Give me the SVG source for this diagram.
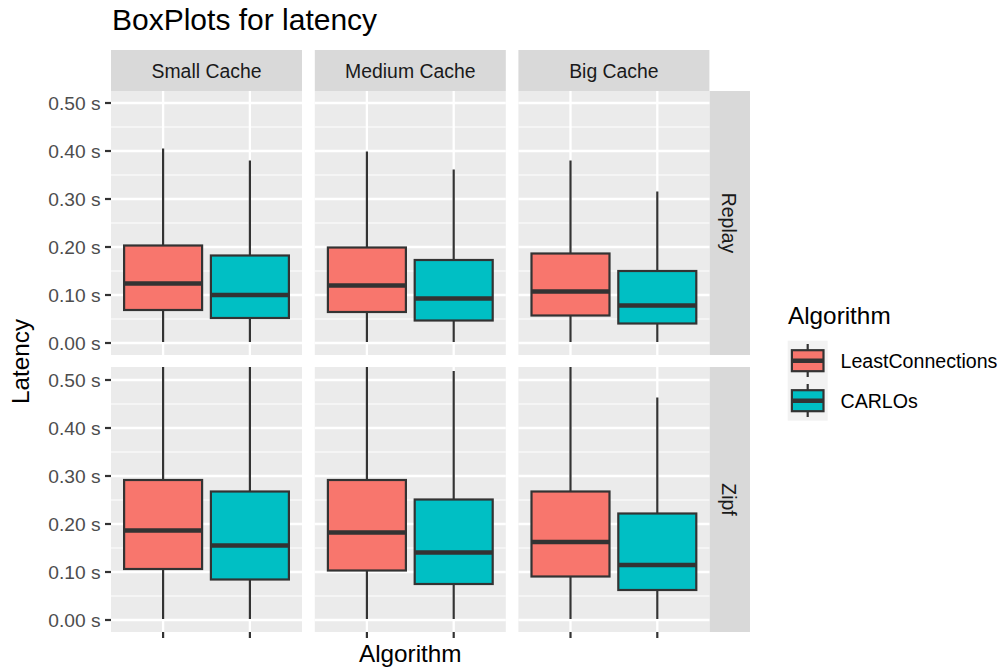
<svg xmlns="http://www.w3.org/2000/svg" width="1003" height="671" viewBox="0 0 1003 671">
<style>
text{font-family:"Liberation Sans",Arial,Helvetica,sans-serif}
.bg{fill:#EBEBEB}
.strip{fill:#D9D9D9}
.gmaj{stroke:#FFFFFF;stroke-width:2.3}
.gmin{stroke:#FFFFFF;stroke-width:1.2}
.box{stroke:#333333;stroke-width:2.2}
.red{fill:#F8766D}
.cy{fill:#00BFC4}
.wh{stroke:#333333;stroke-width:2.2}
.med{stroke:#333333;stroke-width:4.6}
.tick{stroke:#333333;stroke-width:2.2}
.ax{font-size:19.2px;fill:#4D4D4D;text-anchor:end}
.st{font-size:19.4px;fill:#1A1A1A;text-anchor:middle}
.ttl{font-size:24.3px;fill:#000000}
.lg{font-size:19.6px;fill:#000000}
</style>
<defs>
<g id="hgridT">
<line class="gmin" x1="0" x2="191" y1="127" y2="127"/><line class="gmin" x1="0" x2="191" y1="175" y2="175"/><line class="gmin" x1="0" x2="191" y1="223" y2="223"/><line class="gmin" x1="0" x2="191" y1="271" y2="271"/><line class="gmin" x1="0" x2="191" y1="319" y2="319"/>
<line class="gmaj" x1="0" x2="191" y1="103" y2="103"/><line class="gmaj" x1="0" x2="191" y1="151" y2="151"/><line class="gmaj" x1="0" x2="191" y1="199" y2="199"/><line class="gmaj" x1="0" x2="191" y1="247" y2="247"/><line class="gmaj" x1="0" x2="191" y1="295" y2="295"/><line class="gmaj" x1="0" x2="191" y1="343" y2="343"/>
<line class="gmaj" x1="52.1" x2="52.1" y1="91" y2="355"/><line class="gmaj" x1="138.9" x2="138.9" y1="91" y2="355"/>
</g>
<g id="hgridB">
<line class="gmin" x1="0" x2="191" y1="404" y2="404"/><line class="gmin" x1="0" x2="191" y1="452" y2="452"/><line class="gmin" x1="0" x2="191" y1="500" y2="500"/><line class="gmin" x1="0" x2="191" y1="548" y2="548"/><line class="gmin" x1="0" x2="191" y1="596" y2="596"/>
<line class="gmaj" x1="0" x2="191" y1="380" y2="380"/><line class="gmaj" x1="0" x2="191" y1="428" y2="428"/><line class="gmaj" x1="0" x2="191" y1="476" y2="476"/><line class="gmaj" x1="0" x2="191" y1="524" y2="524"/><line class="gmaj" x1="0" x2="191" y1="572" y2="572"/><line class="gmaj" x1="0" x2="191" y1="620" y2="620"/>
<line class="gmaj" x1="52.1" x2="52.1" y1="367" y2="632"/><line class="gmaj" x1="138.9" x2="138.9" y1="367" y2="632"/>
</g>
</defs>
<rect width="1003" height="671" fill="#FFFFFF"/>
<text x="112" y="30" style="font-size:30px;fill:#000000">BoxPlots for latency</text>

<g id="strips">
<rect class="strip" x="111" y="50" width="191" height="41"/>
<rect class="strip" x="314.8" y="50" width="191" height="41"/>
<rect class="strip" x="518.4" y="50" width="191" height="41"/>
<text class="st" x="206.5" y="77.5">Small Cache</text>
<text class="st" x="410.3" y="77.5">Medium Cache</text>
<text class="st" x="613.9" y="77.5">Big Cache</text>
<rect class="strip" x="709.4" y="91" width="40.6" height="264"/>
<rect class="strip" x="709.4" y="367" width="40.6" height="265"/>
<text class="st" transform="translate(721.5,223) rotate(90)">Replay</text>
<text class="st" transform="translate(721.5,499.5) rotate(90)">Zipf</text>
</g>

<g id="panel-replay-small">
<rect class="bg" x="111" y="91" width="191" height="264"/>
<use href="#hgridT" x="111"/>
<line class="wh" x1="163.1" x2="163.1" y1="148.5" y2="342"/>
<rect class="box red" x="124.1" y="245.5" width="78" height="64.5"/>
<line class="med" x1="124.1" x2="202.1" y1="283.5" y2="283.5"/>
<line class="wh" x1="249.9" x2="249.9" y1="160.5" y2="342"/>
<rect class="box cy" x="210.9" y="255.5" width="78" height="62.5"/>
<line class="med" x1="210.9" x2="288.9" y1="295" y2="295"/>
</g>
<g id="panel-replay-medium">
<rect class="bg" x="314.8" y="91" width="191" height="264"/>
<use href="#hgridT" x="314.8"/>
<line class="wh" x1="366.9" x2="366.9" y1="151.5" y2="342"/>
<rect class="box red" x="327.9" y="247.5" width="78" height="64.5"/>
<line class="med" x1="327.9" x2="405.9" y1="285.5" y2="285.5"/>
<line class="wh" x1="453.7" x2="453.7" y1="169.5" y2="342"/>
<rect class="box cy" x="414.7" y="260" width="78" height="60.5"/>
<line class="med" x1="414.7" x2="492.7" y1="298.5" y2="298.5"/>
</g>
<g id="panel-replay-big">
<rect class="bg" x="518.4" y="91" width="191" height="264"/>
<use href="#hgridT" x="518.4"/>
<line class="wh" x1="570.5" x2="570.5" y1="160.5" y2="342"/>
<rect class="box red" x="531.5" y="253.5" width="78" height="62"/>
<line class="med" x1="531.5" x2="609.5" y1="291.5" y2="291.5"/>
<line class="wh" x1="657.3" x2="657.3" y1="191.5" y2="342"/>
<rect class="box cy" x="618.3" y="271" width="78" height="52.5"/>
<line class="med" x1="618.3" x2="696.3" y1="305.5" y2="305.5"/>
</g>

<g id="panel-zipf-small">
<rect class="bg" x="111" y="367" width="191" height="265"/>
<use href="#hgridB" x="111"/>
<line class="wh" x1="163.1" x2="163.1" y1="367" y2="619"/>
<rect class="box red" x="124.1" y="480" width="78" height="89"/>
<line class="med" x1="124.1" x2="202.1" y1="530.5" y2="530.5"/>
<line class="wh" x1="249.9" x2="249.9" y1="367" y2="619"/>
<rect class="box cy" x="210.9" y="491.5" width="78" height="88"/>
<line class="med" x1="210.9" x2="288.9" y1="545.5" y2="545.5"/>
</g>
<g id="panel-zipf-medium">
<rect class="bg" x="314.8" y="367" width="191" height="265"/>
<use href="#hgridB" x="314.8"/>
<line class="wh" x1="366.9" x2="366.9" y1="367" y2="619"/>
<rect class="box red" x="327.9" y="480" width="78" height="90.5"/>
<line class="med" x1="327.9" x2="405.9" y1="532.5" y2="532.5"/>
<line class="wh" x1="453.7" x2="453.7" y1="371" y2="619"/>
<rect class="box cy" x="414.7" y="499.5" width="78" height="84.5"/>
<line class="med" x1="414.7" x2="492.7" y1="552.5" y2="552.5"/>
</g>
<g id="panel-zipf-big">
<rect class="bg" x="518.4" y="367" width="191" height="265"/>
<use href="#hgridB" x="518.4"/>
<line class="wh" x1="570.5" x2="570.5" y1="367" y2="619"/>
<rect class="box red" x="531.5" y="491.5" width="78" height="85"/>
<line class="med" x1="531.5" x2="609.5" y1="542" y2="542"/>
<line class="wh" x1="657.3" x2="657.3" y1="397.5" y2="619"/>
<rect class="box cy" x="618.3" y="513.5" width="78" height="76.5"/>
<line class="med" x1="618.3" x2="696.3" y1="565" y2="565"/>
</g>

<g id="y-axis">
<line class="tick" x1="105" x2="111" y1="103" y2="103"/><line class="tick" x1="105" x2="111" y1="151" y2="151"/><line class="tick" x1="105" x2="111" y1="199" y2="199"/><line class="tick" x1="105" x2="111" y1="247" y2="247"/><line class="tick" x1="105" x2="111" y1="295" y2="295"/><line class="tick" x1="105" x2="111" y1="343" y2="343"/>
<line class="tick" x1="105" x2="111" y1="380" y2="380"/><line class="tick" x1="105" x2="111" y1="428" y2="428"/><line class="tick" x1="105" x2="111" y1="476" y2="476"/><line class="tick" x1="105" x2="111" y1="524" y2="524"/><line class="tick" x1="105" x2="111" y1="572" y2="572"/><line class="tick" x1="105" x2="111" y1="620" y2="620"/>
<text class="ax" x="100.5" y="110">0.50 s</text>
<text class="ax" x="100.5" y="158">0.40 s</text>
<text class="ax" x="100.5" y="206">0.30 s</text>
<text class="ax" x="100.5" y="254">0.20 s</text>
<text class="ax" x="100.5" y="302">0.10 s</text>
<text class="ax" x="100.5" y="350">0.00 s</text>
<text class="ax" x="100.5" y="387">0.50 s</text>
<text class="ax" x="100.5" y="435">0.40 s</text>
<text class="ax" x="100.5" y="483">0.30 s</text>
<text class="ax" x="100.5" y="531">0.20 s</text>
<text class="ax" x="100.5" y="579">0.10 s</text>
<text class="ax" x="100.5" y="627">0.00 s</text>
<text class="ttl" transform="translate(28.5,361.5) rotate(-90)" text-anchor="middle">Latency</text>
</g>

<g id="x-axis">
<line class="tick" x1="163.1" x2="163.1" y1="632" y2="638"/><line class="tick" x1="249.9" x2="249.9" y1="632" y2="638"/>
<line class="tick" x1="366.9" x2="366.9" y1="632" y2="638"/><line class="tick" x1="453.7" x2="453.7" y1="632" y2="638"/>
<line class="tick" x1="570.5" x2="570.5" y1="632" y2="638"/><line class="tick" x1="657.3" x2="657.3" y1="632" y2="638"/>
<text class="ttl" x="410.3" y="662" text-anchor="middle">Algorithm</text>
</g>

<g id="legend">
<text class="ttl" x="788" y="324">Algorithm</text>
<rect x="787.7" y="340.7" width="40" height="80" fill="#F2F2F2"/>
<line class="wh" x1="807.7" x2="807.7" y1="344" y2="377"/>
<rect class="box red" x="791.9" y="350.2" width="31.6" height="21"/>
<line class="med" x1="791.9" x2="823.5" y1="360.7" y2="360.7"/>
<line class="wh" x1="807.7" x2="807.7" y1="384" y2="417"/>
<rect class="box cy" x="791.9" y="390.2" width="31.6" height="21"/>
<line class="med" x1="791.9" x2="823.5" y1="400.7" y2="400.7"/>
<text class="lg" x="840.5" y="367.5">LeastConnections</text>
<text class="lg" x="840.5" y="407.5">CARLOs</text>
</g>
</svg>
